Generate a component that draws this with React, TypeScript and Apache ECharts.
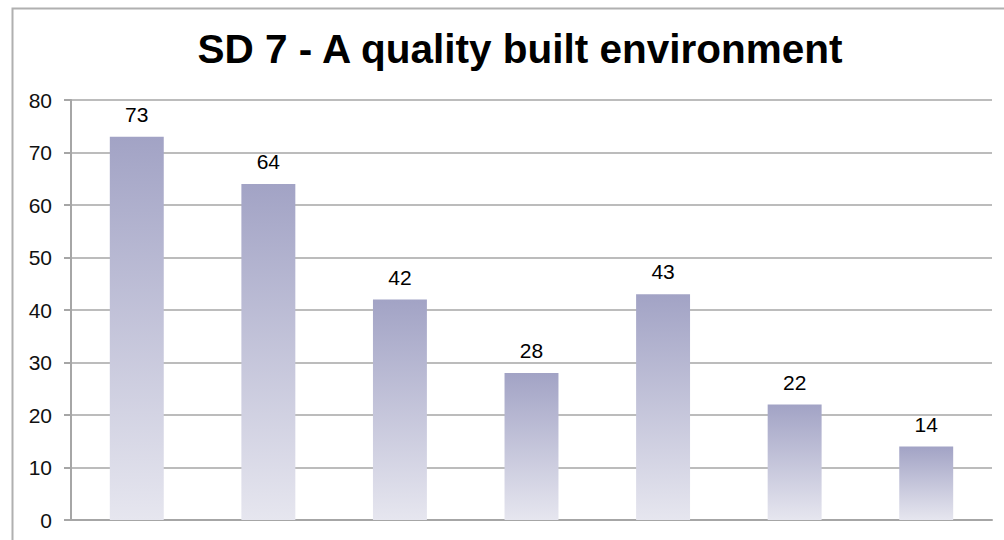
import React, { useEffect, useRef } from "react";
import * as echarts from "echarts";

const title = "SD 7 - A quality built environment";
const categories = ["1", "2", "3", "4", "5", "6", "7"];
const values = [73, 64, 42, 28, 43, 22, 14];
const yTicks = { min: 0, max: 80, interval: 10 };

export default function App() {
  const ref = useRef<HTMLDivElement>(null);
  useEffect(() => {
    const chart = echarts.init(ref.current!, null, { renderer: "svg" });
    chart.setOption({
      animation: false,
      backgroundColor: "#ffffff",
      title: {
        text: title,
        left: 515,
        top: 23,
        textAlign: "center",
        textStyle: {
          fontFamily: "Liberation Sans, Arial, sans-serif",
          fontSize: 40.5,
          fontWeight: "bold",
          color: "#000",
        },
      },
      graphic: [
        {
          type: "rect",
          shape: { x: 12.5, y: 8.5, width: 1010, height: 560 },
          style: { fill: "none", stroke: "#b0b0b0", lineWidth: 2 },
          silent: true,
        },
      ],
      grid: { left: 71, right: 12, top: 100, bottom: 20, containLabel: false },
      xAxis: {
        type: "category",
        data: categories,
        axisLine: { show: true, lineStyle: { color: "#a6a6a6", width: 2 } },
        axisTick: { show: false },
        axisLabel: { show: false },
      },
      yAxis: {
        type: "value",
        min: yTicks.min,
        max: yTicks.max,
        interval: yTicks.interval,
        axisLine: { show: true, lineStyle: { color: "#a6a6a6", width: 2 } },
        axisTick: { show: true, length: 7, lineStyle: { color: "#a6a6a6", width: 2 } },
        axisLabel: {
          margin: 19,
          fontSize: 21,
          color: "#111",
          fontFamily: "Liberation Sans, Arial, sans-serif",
        },
        splitLine: { show: true, lineStyle: { color: "#a6a6a6", width: 1.5 } },
      },
      series: [
        {
          type: "bar",
          data: values,
          barWidth: "41%",
          itemStyle: {
            color: new echarts.graphic.LinearGradient(0, 0, 0, 1, [
              { offset: 0, color: "#a2a3c5" },
              { offset: 1, color: "#e6e6ef" },
            ]),
          },
          label: {
            show: true,
            position: "top",
            distance: 12,
            fontSize: 21,
            color: "#000",
            fontFamily: "Liberation Sans, Arial, sans-serif",
          },
        },
      ],
    });
    return () => chart.dispose();
  }, []);
  return (
    <div
      ref={ref}
      style={{ position: "fixed", left: 0, top: 0, width: 1004, height: 540 }}
    />
  );
}
